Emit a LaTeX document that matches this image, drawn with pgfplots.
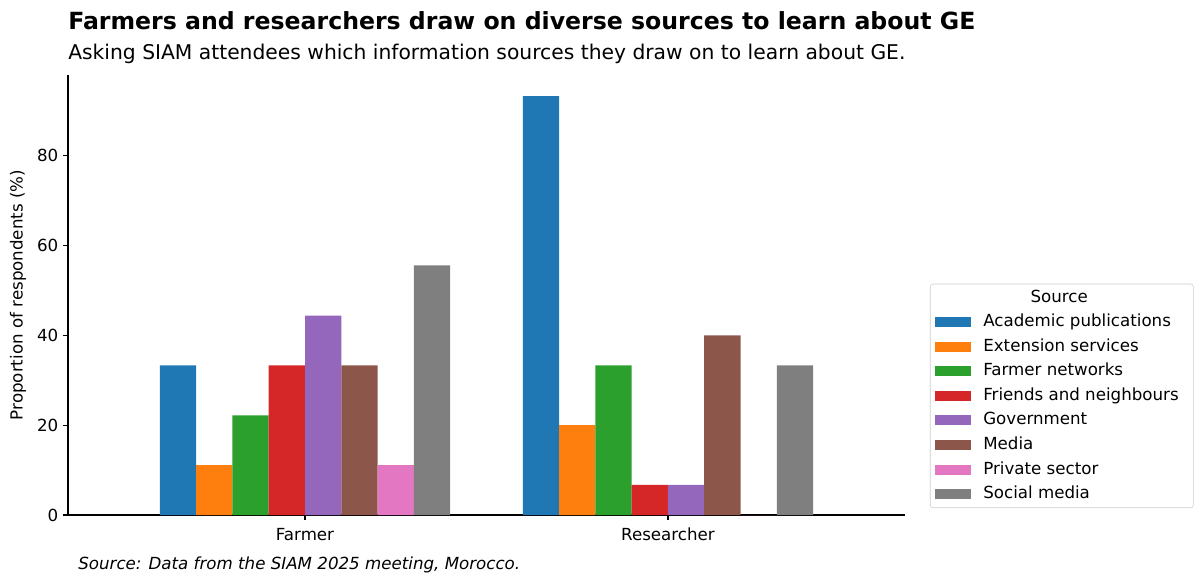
\documentclass[border=0pt]{standalone}
\usepackage{pgfplots}
\pgfplotsset{compat=1.18}
\usepackage{fontspec}
\setmainfont{DejaVu Sans}
\definecolor{c1}{HTML}{1F77B4}
\definecolor{c2}{HTML}{FF7F0E}
\definecolor{c3}{HTML}{2CA02C}
\definecolor{c4}{HTML}{D62728}
\definecolor{c5}{HTML}{9467BD}
\definecolor{c6}{HTML}{8C564B}
\definecolor{c7}{HTML}{E377C2}
\definecolor{c8}{HTML}{7F7F7F}
\begin{document}
\begin{tikzpicture}
\path[use as bounding box] (0,0) rectangle (864pt,420.48pt);
\node[anchor=base west,inner sep=0pt,font=\fontsize{17}{20}\selectfont\bfseries] at (48.96pt,398.9pt) {Farmers and researchers draw on diverse sources to learn about GE};
\node[anchor=base west,inner sep=0pt,font=\fontsize{14.6}{17}\selectfont] at (48.96pt,377.3pt) {Asking SIAM attendees which information sources they draw on to learn about GE.};
\node[anchor=base west,inner sep=0pt,font=\fontsize{12}{14}\selectfont\itshape] at (56.2pt,10.8pt) {Source: Data from the SIAM 2025 meeting, Morocco.};
\begin{axis}[
  at={(48.96pt,49.68pt)}, anchor=south west,
  scale only axis, width=602.6pt, height=316.8pt,
  xmin=-0.653, xmax=1.653, ymin=0, ymax=98,
  axis x line*=bottom, axis y line*=left,
  axis line style={-, black, line width=0.8pt},
  xtick={0,1}, xticklabels={Farmer,Researcher},
  ytick={0,20,40,60,80},
  tick align=outside, major tick length=3.5pt,
  tick style={black, line width=0.8pt},
  ticklabel style={font=\fontsize{12}{14}\selectfont},
  xticklabel style={yshift=-2.5pt},
  /pgf/number format/assume math mode=true,
  ylabel={Proportion of respondents (\%)},
  ylabel style={font=\fontsize{12}{14}\selectfont, at={(axis description cs:-0.0597,0.5)}, anchor=center},
  ybar, bar width=0.1,
  legend cell align=left,
  legend image code/.code={\fill[#1, sharp corners] (0pt,-3.6pt) rectangle (26pt,3.6pt);},
  legend style={at={(rel axis cs:1.0299,0.0159)}, anchor=south west,
    draw=black!20, rounded corners=2pt, fill=white,
    font=\fontsize{12}{14}\selectfont,
    row sep=6.2pt, column sep=8.6pt, inner xsep=3.6pt, inner ysep=4pt,
    nodes={inner sep=0pt, text height=9pt, text depth=2.5pt}},
]
\addlegendimage{empty legend}
\addlegendentry{\hspace*{34pt}Source}
\addplot[fill=c1, draw=none, bar shift=-0.35] coordinates {(0,33.3) (1,93.3)};
\addlegendentry{Academic publications}
\addplot[fill=c2, draw=none, bar shift=-0.25] coordinates {(0,11.1) (1,20.0)};
\addlegendentry{Extension services}
\addplot[fill=c3, draw=none, bar shift=-0.15] coordinates {(0,22.2) (1,33.3)};
\addlegendentry{Farmer networks}
\addplot[fill=c4, draw=none, bar shift=-0.05] coordinates {(0,33.3) (1,6.7)};
\addlegendentry{Friends and neighbours\rule{7pt}{0pt}}
\addplot[fill=c5, draw=none, bar shift=0.05] coordinates {(0,44.4) (1,6.7)};
\addlegendentry{Government}
\addplot[fill=c6, draw=none, bar shift=0.15] coordinates {(0,33.3) (1,40.0)};
\addlegendentry{Media}
\addplot[fill=c7, draw=none, bar shift=0.25] coordinates {(0,11.1) (1,0)};
\addlegendentry{Private sector}
\addplot[fill=c8, draw=none, bar shift=0.35] coordinates {(0,55.6) (1,33.3)};
\addlegendentry{Social media}
\end{axis}
\end{tikzpicture}
\end{document}
